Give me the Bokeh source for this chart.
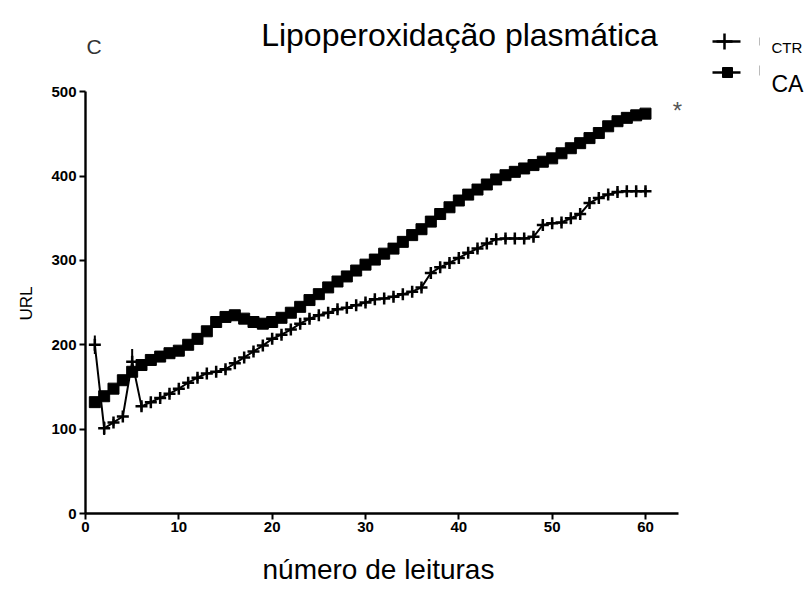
from bokeh.plotting import figure
from bokeh.models import ColumnDataSource, Range1d, Label, FixedTicker, Title
from bokeh.embed import file_html
from bokeh.resources import INLINE

# Readings 1..60
leituras = list(range(1, 61))

ctr = [200, 101, 108, 115, 180, 127, 132, 137, 142, 148,
       155, 161, 166, 168, 171, 178, 185, 192, 199, 207,
       212, 218, 225, 231, 235, 238, 242, 244, 247, 250,
       254, 255, 257, 260, 263, 268, 285, 292, 297, 303,
       309, 314, 320, 325, 326, 326, 326, 328, 342, 344,
       345, 350, 355, 368, 374, 378, 381, 382, 382, 382]

ctr_err = [11, 8, 4, 4, 15, 5, 4, 4, 4, 4,
           4, 4, 4, 4, 4, 4, 4, 4, 4, 4,
           4, 4, 4, 4, 4, 4, 4, 4, 4, 4,
           4, 4, 4, 4, 4, 4, 4, 4, 4, 4,
           4, 4, 4, 4, 4, 4, 4, 4, 4, 4,
           4, 4, 4, 4, 4, 4, 4, 4, 4, 4]

ca = [132, 139, 148, 158, 168, 176, 182, 186, 190, 193,
      200, 207, 216, 227, 233, 235, 231, 227, 225, 227,
      232, 238, 245, 253, 260, 268, 275, 281, 288, 295,
      301, 308, 314, 322, 330, 337, 346, 355, 363, 371,
      378, 384, 390, 396, 401, 405, 409, 413, 417, 421,
      427, 433, 439, 445, 451, 459, 465, 469, 472, 474]

x_ticks = [0, 10, 20, 30, 40, 50, 60]
y_ticks = [0, 100, 200, 300, 400, 500]

# page geometry (pixels)
W, H = 807, 601
LEFT, BOTTOM = 85, 88
PX_X = 9.3333          # pixels per reading
PX_Y = 0.8436          # pixels per URL unit
frame_h = H - BOTTOM


def dx(px):
    return (px - LEFT) / PX_X


def dy(py):
    return (frame_h - py) / PX_Y


p = figure(width=W, height=H, output_backend="svg", toolbar_location=None,
           x_range=Range1d(0, (W - LEFT) / PX_X),
           y_range=Range1d(0, frame_h / PX_Y),
           min_border_left=LEFT, min_border_right=0,
           min_border_top=0, min_border_bottom=BOTTOM)
p.outline_line_color = None
p.xgrid.visible = False
p.ygrid.visible = False
p.background_fill_color = "white"
p.border_fill_color = "white"

for ax, ticks in ((p.xaxis[0], x_ticks), (p.yaxis[0], y_ticks)):
    ax.ticker = FixedTicker(ticks=ticks)
    ax.minor_tick_line_color = None
    ax.axis_line_width = 2.4
    ax.major_tick_line_width = 2
    ax.major_tick_out = 6
    ax.major_tick_in = 0
    ax.major_label_text_font = "Liberation Sans"
    ax.major_label_text_font_style = "bold"
    ax.major_label_text_font_size = "15px"
    ax.major_label_text_color = "black"
    ax.axis_line_color = "black"
    ax.major_tick_line_color = "black"
p.xaxis.bounds = (0, 63.5)
p.yaxis.bounds = (0, 500)
p.xaxis.major_label_standoff = 2
p.yaxis.major_label_standoff = 3

# axis titles, centred on the drawn axis lines
p.add_layout(Title(text="número de leituras", align="left", offset=177,
                   standoff=34, text_font="Liberation Sans",
                   text_font_size="28px", text_font_style="normal",
                   text_color="black"), "below")
p.add_layout(Title(text="URL", align="left", offset=193,
                   standoff=26, text_font="Liberation Sans",
                   text_font_size="17px", text_font_style="normal",
                   text_color="black"), "left")

src = ColumnDataSource(dict(
    x=leituras, ctr=ctr, ca=ca,
    lo=[m - e for m, e in zip(ctr, ctr_err)],
    hi=[m + e for m, e in zip(ctr, ctr_err)],
))

# CA series: thick line of filled squares
p.line("x", "ca", source=src, line_color="black", line_width=2)
p.scatter("x", "ca", source=src, marker="square", size=11,
          fill_color="black", line_color="black")

# CTR series: line, error bars and plus markers
p.line("x", "ctr", source=src, line_color="black", line_width=2)
p.segment("x", "lo", "x", "hi", source=src, line_color="black", line_width=2)
p.scatter("x", "ctr", source=src, marker="cross", size=12,
          line_color="black", line_width=2.5)

# legend keys
p.segment(x0=[dx(712), dx(712)], y0=[dy(41), dy(72)],
          x1=[dx(740), dx(740)], y1=[dy(41), dy(72)],
          line_color="black", line_width=2.5)
p.scatter(x=[dx(724)], y=[dy(41)], marker="cross", size=16,
          line_color="black", line_width=2.5)
p.scatter(x=[dx(727)], y=[dy(72)], marker="square", size=10,
          fill_color="black", line_color="black")
p.segment(x0=[dx(759), dx(759)], y0=[dy(37), dy(65)],
          x1=[dx(759), dx(759)], y1=[dy(45), dy(75)],
          line_color="#bbbbbb", line_width=1)

texts = [
    dict(x=dx(459), y=dy(34), text="Lipoperoxidação plasmática",
         text_font="Liberation Sans", text_font_size="32px",
         text_align="center", text_baseline="alphabetic"),
    dict(x=dx(86), y=dy(46), text="C", text_font="Liberation Sans",
         text_font_size="21px", text_align="left",
         text_baseline="alphabetic", text_color="#333333"),
    dict(x=dx(771), y=dy(47), text="CTR", text_font="Liberation Sans",
         text_font_size="15px", text_align="left",
         text_baseline="alphabetic"),
    dict(x=dx(771), y=dy(83), text="CA", text_font="Liberation Sans",
         text_font_size="23px", text_align="left",
         text_baseline="alphabetic"),
    dict(x=dx(677), y=dy(110), text="*", text_font="Liberation Sans",
         text_font_size="24px", text_align="center",
         text_baseline="alphabetic", text_color="#555555"),
]
for t in texts:
    t.setdefault("text_color", "black")
    p.add_layout(Label(**t))

open("out.html", "w").write(file_html(p, INLINE))
